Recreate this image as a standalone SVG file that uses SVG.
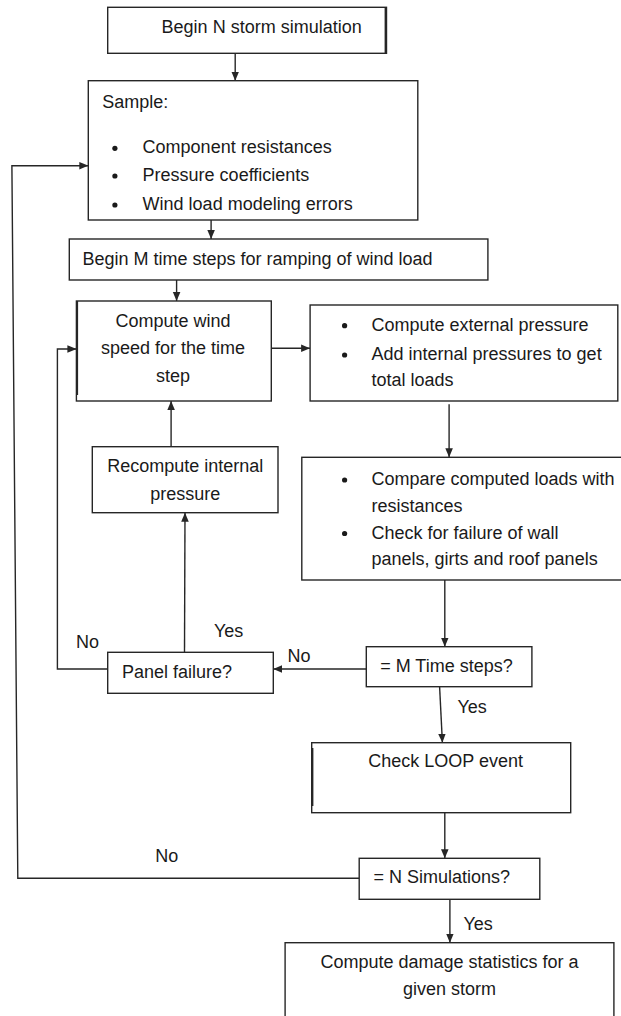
<svg xmlns="http://www.w3.org/2000/svg" width="621" height="1016" viewBox="0 0 621 1016">
<style>
.box{fill:#fff;stroke:#262626;stroke-width:1.4}
.t{font-family:"Liberation Sans",Arial,sans-serif;font-size:18px;fill:#1a1a1a}
.c{text-anchor:middle}
.ln{fill:none;stroke:#262626;stroke-width:1.4}
.b{fill:#1a1a1a}
</style>
<defs>
<marker id="ah" viewBox="0 0 10 10" refX="10" refY="5" markerWidth="9" markerHeight="9" markerUnits="userSpaceOnUse" orient="auto">
<path d="M0,0.8 L10,5 L0,9.2 z" fill="#262626"/>
</marker>
</defs>
<rect width="621" height="1016" fill="#fff"/>

<g id="connectors">
<line class="ln" x1="235.2" y1="53.3" x2="235.2" y2="80.7" marker-end="url(#ah)"/>
<line class="ln" x1="211.1" y1="220" x2="211.1" y2="239" marker-end="url(#ah)"/>
<line class="ln" x1="176.6" y1="280" x2="176.6" y2="301" marker-end="url(#ah)"/>
<line class="ln" x1="271.3" y1="348.3" x2="310.1" y2="348.3" marker-end="url(#ah)"/>
<line class="ln" x1="449.1" y1="404.3" x2="449.1" y2="457.3" marker-end="url(#ah)"/>
<line class="ln" x1="171.1" y1="446.7" x2="171.1" y2="401" marker-end="url(#ah)"/>
<line class="ln" x1="184.5" y1="652.3" x2="185" y2="512.7" marker-end="url(#ah)"/>
<polyline class="ln" points="107.7,669 57.4,669 57.4,349 76.4,349" marker-end="url(#ah)"/>
<line class="ln" x1="366.3" y1="669" x2="273.3" y2="669" marker-end="url(#ah)"/>
<line class="ln" x1="444.8" y1="580" x2="444.8" y2="646.7" marker-end="url(#ah)"/>
<line class="ln" x1="439.6" y1="686.7" x2="442.4" y2="742.7" marker-end="url(#ah)"/>
<line class="ln" x1="444.8" y1="812.7" x2="444.8" y2="858.3" marker-end="url(#ah)"/>
<line class="ln" x1="449.9" y1="899.3" x2="449.9" y2="942.7" marker-end="url(#ah)"/>
<polyline class="ln" points="359.2,878.3 17.8,878.3 11.9,165.7 88.3,165.7" marker-end="url(#ah)"/>
<text class="t" x="213.9" y="636.7">Yes</text>
<text class="t" x="76" y="648.3">No</text>
<text class="t" x="287.5" y="661.7">No</text>
<text class="t" x="457.4" y="713.3">Yes</text>
<text class="t" x="155.2" y="861.7">No</text>
<text class="t" x="463.4" y="930">Yes</text>
</g>

<g id="begin-n">
<rect class="box" x="107.7" y="7.3" width="278.8" height="46"/>
<line class="ln" x1="385.3" y1="7.3" x2="385.3" y2="53.3"/>
<text class="t" x="161.6" y="33">Begin N storm simulation</text>
</g>

<g id="sample">
<rect class="box" x="88.3" y="80.7" width="329.5" height="139.3"/>
<text class="t" x="102.2" y="108.3">Sample:</text>
<circle class="b" cx="114.9" cy="148.3" r="2.6"/>
<text class="t" x="142.6" y="153.3">Component resistances</text>
<circle class="b" cx="114.9" cy="176" r="2.6"/>
<text class="t" x="142.6" y="181">Pressure coefficients</text>
<circle class="b" cx="114.9" cy="205" r="2.6"/>
<text class="t" x="142.6" y="210">Wind load modeling errors</text>
</g>

<g id="begin-m">
<rect class="box" x="69.3" y="239" width="418.6" height="41"/>
<text class="t" x="82.4" y="265">Begin M time steps for ramping of wind load</text>
</g>

<g id="wind-speed">
<rect class="box" x="76.4" y="301" width="194.9" height="100"/>
<line class="ln" x1="77.4" y1="301" x2="77.4" y2="395"/>
<text class="t c" x="173" y="327.3">Compute wind</text>
<text class="t c" x="173" y="354.3">speed for the time</text>
<text class="t c" x="173" y="382">step</text>
</g>

<g id="external">
<rect class="box" x="310.1" y="305" width="307.7" height="96"/>
<circle class="b" cx="344.6" cy="325.7" r="2.6"/>
<text class="t" x="371.5" y="330.7">Compute external pressure</text>
<circle class="b" cx="344.6" cy="355" r="2.6"/>
<text class="t" x="371.5" y="360">Add internal pressures to get</text>
<text class="t" x="371.5" y="386">total loads</text>
</g>

<g id="compare">
<rect class="box" x="301.8" y="457.3" width="325" height="122.7"/>
<circle class="b" cx="344.6" cy="480" r="2.6"/>
<text class="t" x="371.5" y="485">Compare computed loads with</text>
<text class="t" x="371.5" y="511.7">resistances</text>
<circle class="b" cx="344.6" cy="533.5" r="2.6"/>
<text class="t" x="371.5" y="538.5">Check for failure of wall</text>
<text class="t" x="371.5" y="565">panels, girts and roof panels</text>
</g>

<g id="recompute">
<rect class="box" x="92.3" y="446.7" width="185.7" height="66"/>
<text class="t c" x="185.3" y="471.7">Recompute internal</text>
<text class="t c" x="185.3" y="500">pressure</text>
</g>

<g id="panel-failure">
<rect class="box" x="107.7" y="652.3" width="165.6" height="41"/>
<text class="t" x="122" y="678">Panel failure?</text>
</g>

<g id="m-steps">
<rect class="box" x="366.3" y="646.7" width="165.6" height="40"/>
<text class="t" x="380.2" y="671.7">= M Time steps?</text>
</g>

<g id="loop">
<rect class="box" x="311.7" y="742.7" width="259" height="70"/>
<line class="ln" x1="312.7" y1="748" x2="312.7" y2="806"/>
<text class="t" x="368.3" y="767.3">Check LOOP event</text>
</g>

<g id="n-sims">
<rect class="box" x="359.2" y="858.3" width="180.6" height="41"/>
<text class="t" x="373.5" y="883.3">= N Simulations?</text>
</g>

<g id="damage">
<rect class="box" x="285.1" y="942.7" width="328.8" height="80"/>
<text class="t c" x="449.5" y="968.3">Compute damage statistics for a</text>
<text class="t c" x="449.5" y="995">given storm</text>
</g>
</svg>
